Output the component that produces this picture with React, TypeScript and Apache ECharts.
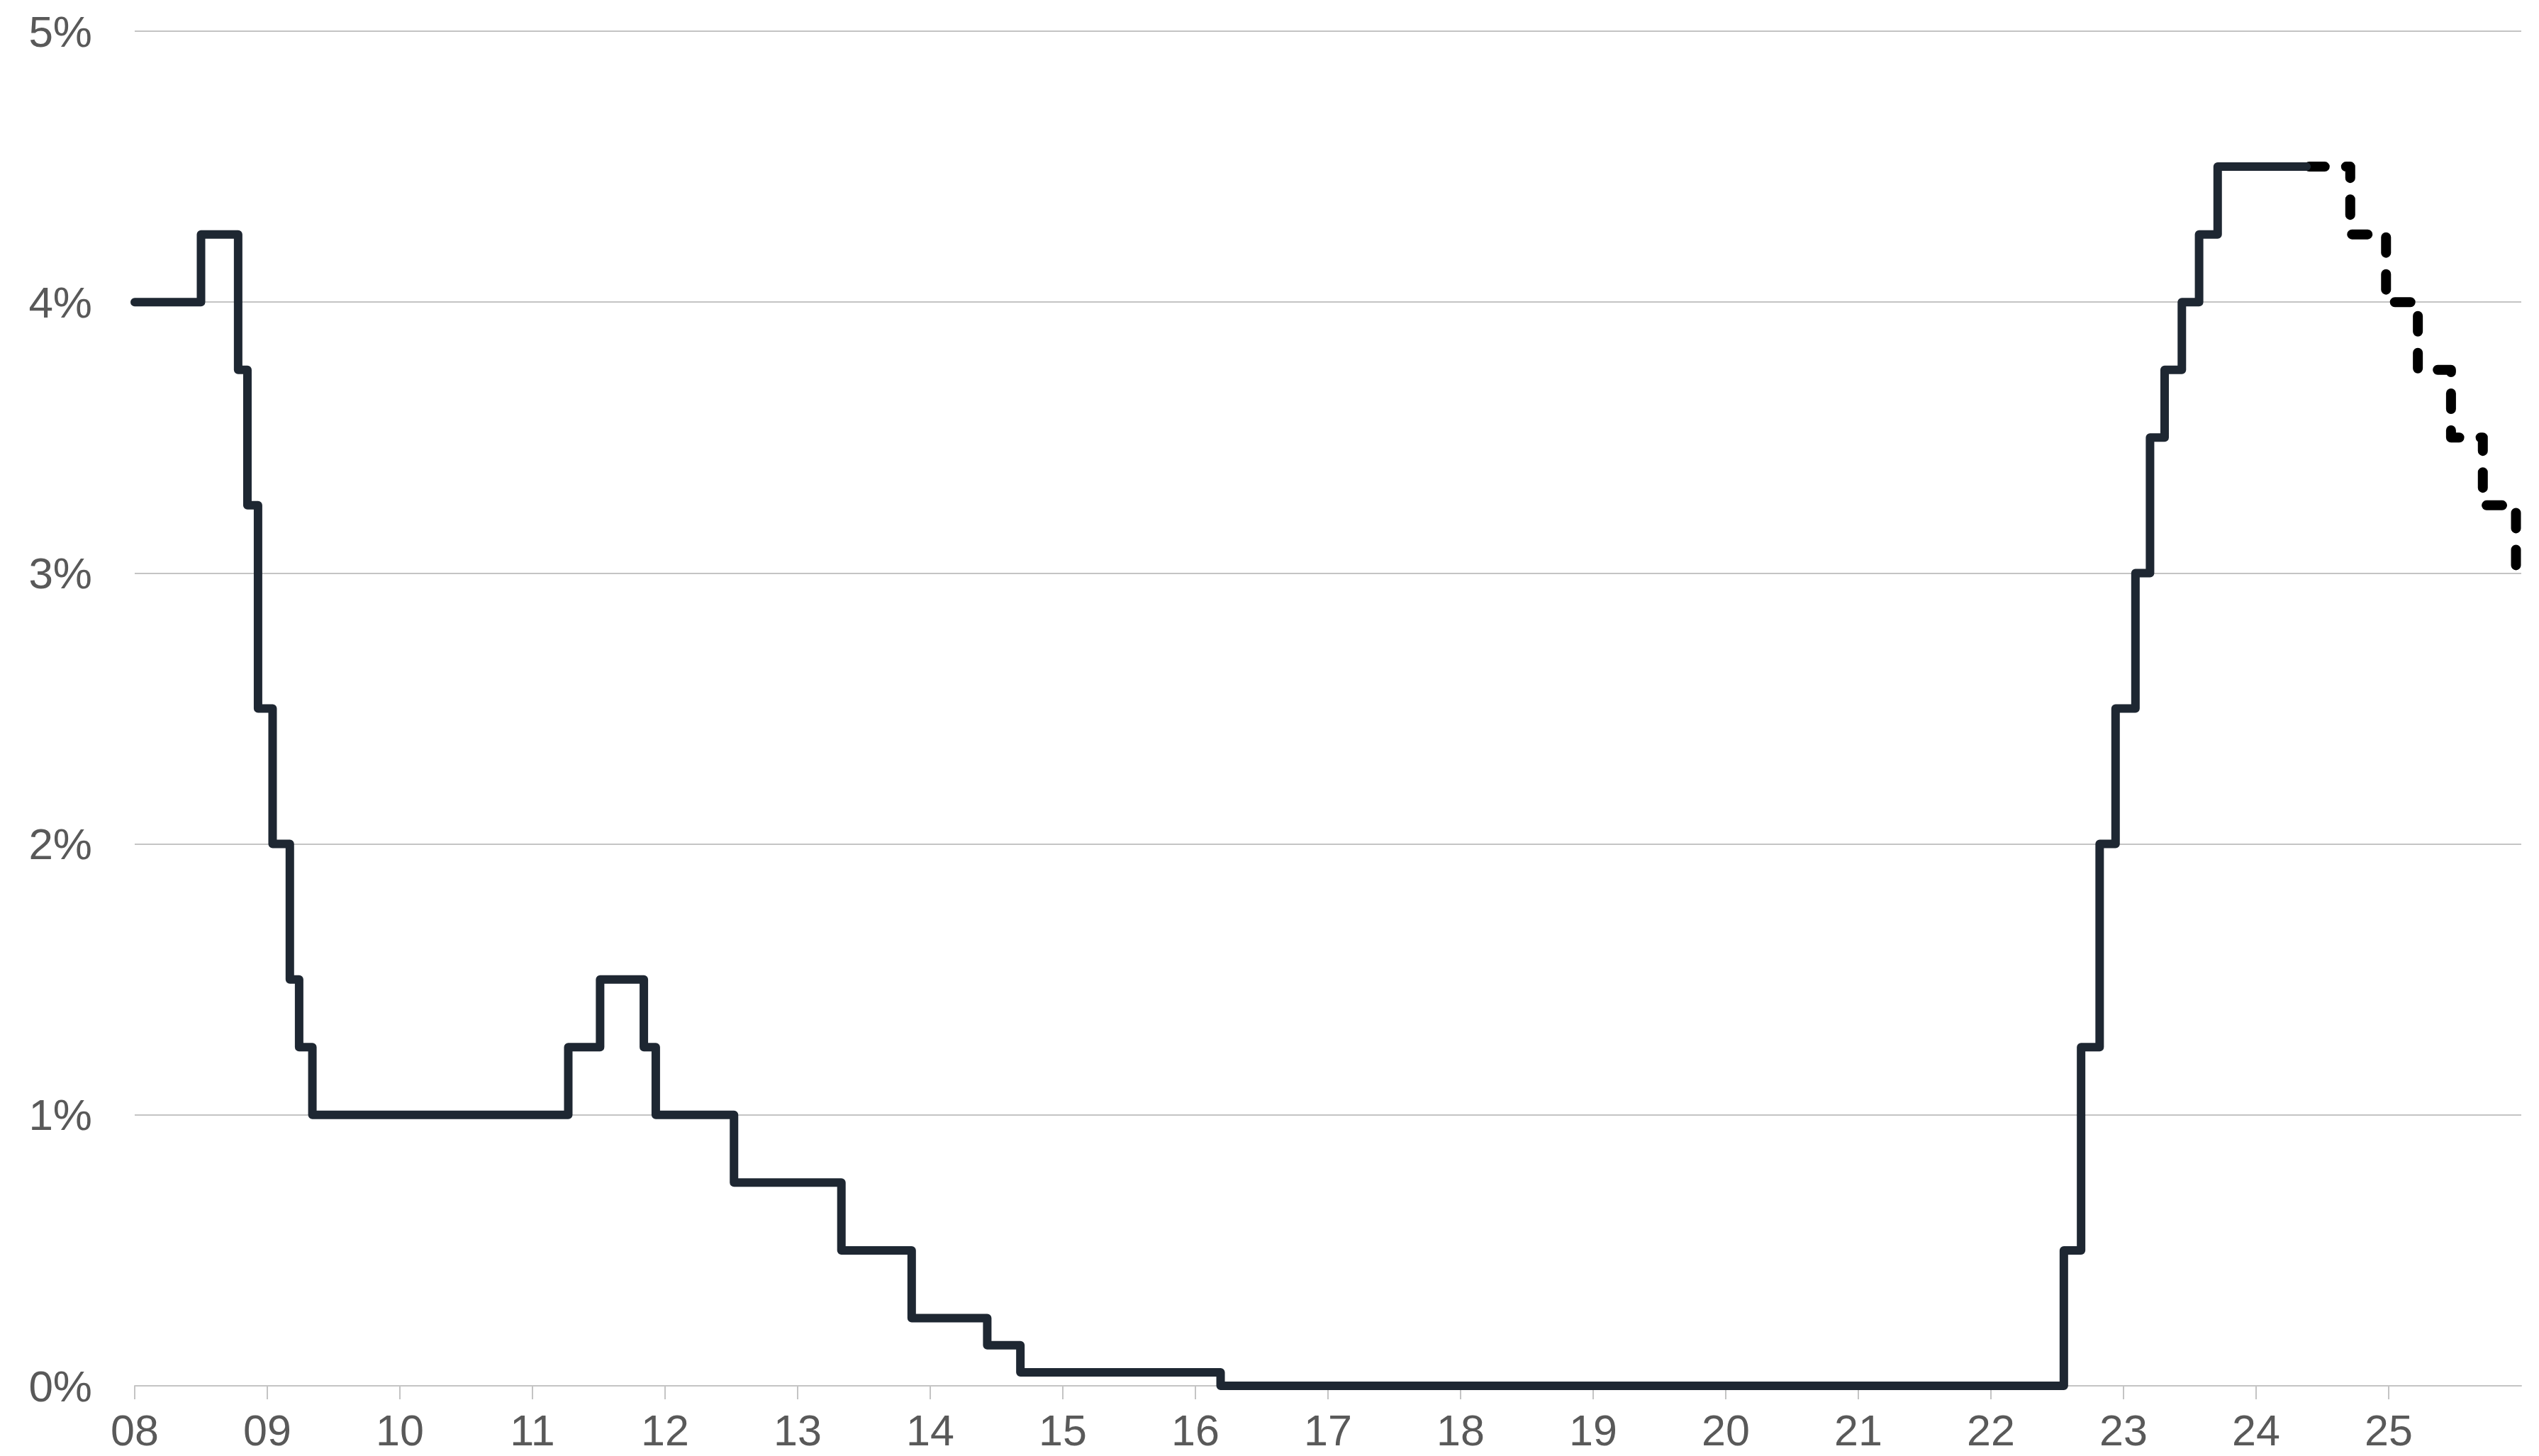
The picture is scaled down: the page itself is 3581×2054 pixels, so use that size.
import React, { useEffect, useRef } from "react";
import * as echarts from "echarts";

// Policy rate history (decimal year of change, new rate in %)
const rateDates = [
  2008.0, 2008.5, 2008.78, 2008.85, 2008.93, 2009.04, 2009.17, 2009.24, 2009.34,
  2011.27, 2011.51, 2011.84, 2011.93, 2012.52, 2013.33, 2013.86, 2014.43, 2014.68,
  2016.19, 2022.55, 2022.68, 2022.82, 2022.94, 2023.09, 2023.2, 2023.31, 2023.44,
  2023.57, 2023.71, 2024.38,
];
const rateValues = [
  4.0, 4.25, 3.75, 3.25, 2.5, 2.0, 1.5, 1.25, 1.0,
  1.25, 1.5, 1.25, 1.0, 0.75, 0.5, 0.25, 0.15, 0.05,
  0.0, 0.5, 1.25, 2.0, 2.5, 3.0, 3.5, 3.75, 4.0,
  4.25, 4.5, 4.5,
];

// Expected path (dashed)
const forecastDates = [2024.4, 2024.71, 2024.98, 2025.22, 2025.47, 2025.71, 2025.96];
const forecastValues = [4.5, 4.25, 4.0, 3.75, 3.5, 3.25, 3.0];

const yTicks = [0, 1, 2, 3, 4, 5];
const xMin = 2008;
const xMax = 2026;

export default function App() {
  const ref = useRef<HTMLDivElement>(null);
  useEffect(() => {
    if (!ref.current) return;
    const chart = echarts.init(ref.current, null, { renderer: "svg" });
    const fontFamily = "'Liberation Sans', Arial, sans-serif";
    chart.setOption({
      animation: false,
      backgroundColor: "#ffffff",
      grid: { left: 190, right: 25, top: 44, bottom: 99, containLabel: false },
      xAxis: {
        type: "value",
        min: xMin,
        max: xMax,
        interval: 1,
        axisLine: { show: true, lineStyle: { color: "#c4c4c4", width: 2 } },
        axisTick: { show: true, length: 19, lineStyle: { color: "#c4c4c4", width: 2 } },
        splitLine: { show: false },
        axisLabel: {
          margin: 36,
          fontSize: 61,
          lineHeight: 54,
          color: "#595959",
          fontFamily,
          showMaxLabel: false,
          formatter: (v: number) =>
            v >= xMax ? "" : String(Math.round(v) % 100).padStart(2, "0"),
        },
      },
      yAxis: {
        type: "value",
        min: yTicks[0],
        max: yTicks[yTicks.length - 1],
        interval: 1,
        axisLine: { show: false },
        axisTick: { show: false },
        splitLine: { show: true, lineStyle: { color: "#c4c4c4", width: 2 } },
        axisLabel: {
          margin: 60,
          fontSize: 62,
          color: "#595959",
          fontFamily,
          formatter: (v: number) => `${v}%`,
        },
      },
      series: [
        {
          type: "line",
          step: "end",
          showSymbol: false,
          symbol: "none",
          data: rateDates.map((d, i) => [d, rateValues[i]]),
          lineStyle: { color: "#1e2732", width: 12, cap: "round", join: "round" },
          z: 3,
        },
        {
          type: "line",
          step: "end",
          showSymbol: false,
          symbol: "none",
          data: forecastDates.map((d, i) => [d, forecastValues[i]]),
          lineStyle: {
            color: "#000000",
            width: 14,
            type: [22, 30],
            cap: "round",
            join: "round",
          },
          z: 2,
        },
      ],
    });
    return () => chart.dispose();
  }, []);
  return (
    <div
      ref={ref}
      style={{ position: "fixed", left: 0, top: 0, width: 3581, height: 2054, background: "#fff" }}
    />
  );
}
